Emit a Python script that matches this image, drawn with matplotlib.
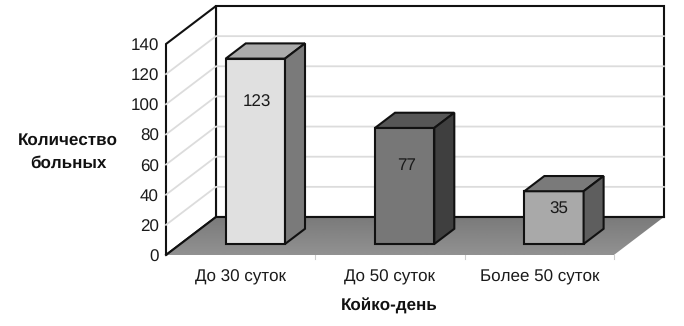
import numpy as np
import matplotlib
matplotlib.use('Agg')
import matplotlib.pyplot as plt
from matplotlib.patches import Polygon

plt.rcParams['font.family'] = ['Liberation Sans', 'DejaVu Sans']
plt.rcParams['text.hinting'] = 'no_hinting'
plt.rcParams['text.hinting_factor'] = 1

# данные
categories = ['До 30 суток', 'До 50 суток', 'Более 50 суток']
values = [123, 77, 35]
y_ticks = [0, 20, 40, 60, 80, 100, 120, 140]
x_title = 'Койко-день'
y_title_lines = ['Количество', 'больных']

# цвета столбиков: передняя грань, верх, бок
front_colors = ['#e0e0e0', '#777777', '#a9a9a9']
top_colors = ['#ababab', '#565656', '#7a7a7a']
side_colors = ['#7a7a7a', '#3f3f3f', '#5e5e5e']
label_heights = [95, 53, 24]
label_shift = [2, 2, 5]

W, H = 684, 326
X0, Y0 = 166, 255        # передний левый угол пола
CAT_W = 149.3            # ширина категории, px
PX_PER_UNIT = 211 / 140  # px на единицу значения
DEPTH_X, DEPTH_Y = 50, 38

def proj(x, v, d):
    # x - в категориях, v - значение, d - глубина от 0 до 1
    return (X0 + x * CAT_W + d * DEPTH_X, Y0 - v * PX_PER_UNIT - d * DEPTH_Y)

def poly(ax, pts, color, lw=1.5, z=2, edge='#111111'):
    ax.add_patch(Polygon(pts, closed=True, facecolor=color, edgecolor=edge,
                         linewidth=lw, joinstyle='miter', zorder=z))

fig = plt.figure(figsize=(W / 100, H / 100), dpi=100)
ax = fig.add_axes([0, 0, 1, 1])
ax.axis('off')

n = len(categories)
vmax = y_ticks[-1]

# задняя и левая стенки
poly(ax, [proj(0, 0, 1), proj(n, 0, 1), proj(n, vmax, 1), proj(0, vmax, 1)], 'white', z=1)
poly(ax, [proj(0, 0, 0), proj(0, 0, 1), proj(0, vmax, 1), proj(0, vmax, 0)], 'white', z=1)

# сетка
for t in y_ticks[1:-1]:
    pts = [proj(0, t, 0), proj(0, t, 1), proj(n, t, 1)]
    ax.plot(*zip(*pts), color='#dcdcdc', lw=1.3, zorder=1.5)

# пол с небольшим градиентом
grad = np.linspace(0.48, 0.57, 64).reshape(-1, 1)
floor = Polygon([proj(0, 0, 0), proj(n, 0, 0), proj(n, 0, 1), proj(0, 0, 1)],
                closed=True, transform=ax.transData, facecolor='none', edgecolor='none')
ax.add_patch(floor)
im = ax.imshow(grad, cmap='gray', vmin=0, vmax=1, aspect='auto', zorder=1.6,
               extent=(X0, X0 + n * CAT_W + DEPTH_X, Y0, Y0 - DEPTH_Y))
im.set_clip_path(floor)
ax.set_xlim(0, W)
ax.set_ylim(H, 0)
ax.plot(*zip(proj(0, 0, 1), proj(n, 0, 1)), color='#111111', lw=1.5, zorder=1.7)
ax.plot(*zip(proj(0, 0, 0), proj(0, 0, 1)), color='#111111', lw=1.5, zorder=1.7)

# столбики
bar_w, d0, d1 = 0.397, 0.29, 0.69
for i, v in enumerate(values):
    x0 = i + 0.303
    x1 = x0 + bar_w
    poly(ax, [proj(x0, 0, d0), proj(x1, 0, d0), proj(x1, v, d0), proj(x0, v, d0)], front_colors[i], z=3)
    poly(ax, [proj(x0, v, d0), proj(x1, v, d0), proj(x1, v, d1), proj(x0, v, d1)], top_colors[i], z=3)
    poly(ax, [proj(x1, 0, d0), proj(x1, 0, d1), proj(x1, v, d1), proj(x1, v, d0)], side_colors[i], z=3)
    px, py = proj(i + 0.5, label_heights[i], d0)
    ax.text(px + label_shift[i], py + 2, str(v), ha='center', va='center',
            fontsize=12.3, color='#1a1a1a', zorder=4)

# подписи оси значений
for t in y_ticks:
    px, py = proj(0, t, 0)
    ax.text(px - 7, py + 2.5, str(t), ha='right', va='center', fontsize=12.3, color='#1a1a1a')

# подписи категорий и засечки
for i, c in enumerate(categories):
    px, py = proj(i + 0.5, 0, 0)
    ax.text(px, py + 22, c, ha='center', va='center', fontsize=12.5, color='#1a1a1a')
for i in range(1, n + 1):
    px, py = proj(i, 0, 0)
    ax.plot([px, px], [py, py + 4], color='#cccccc', lw=0.8, zorder=1)

ax.text(389.5, 306, x_title, ha='center', va='center', fontsize=12.6, fontweight='bold', color='#111111')
ax.text(68, 140, y_title_lines[0], ha='center', va='center', fontsize=12.6, fontweight='bold', color='#111111')
ax.text(68, 163, y_title_lines[1], ha='center', va='center', fontsize=12.6, fontweight='bold', color='#111111')

fig.savefig('out.png', dpi=100)
